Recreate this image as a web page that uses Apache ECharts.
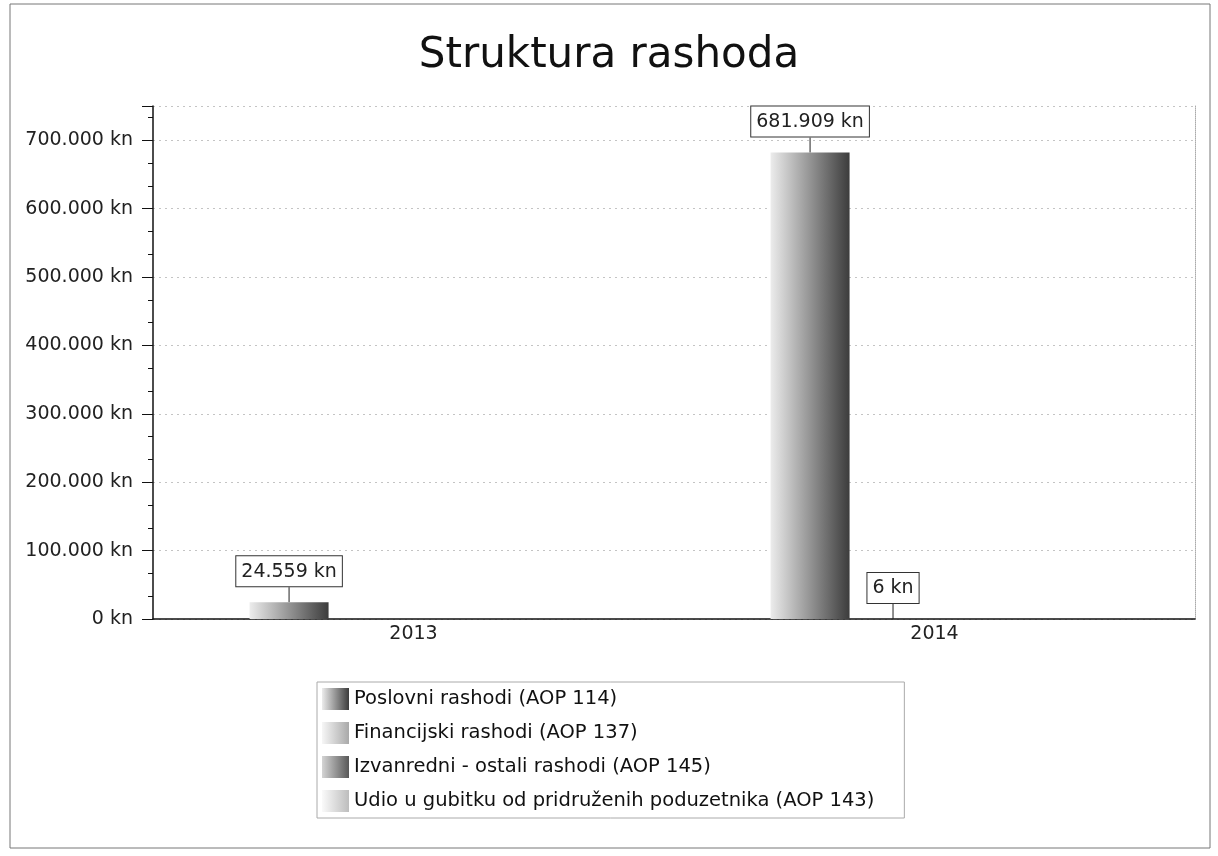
<!DOCTYPE html>
<html lang="hr">
<head>
    <meta charset="UTF-8">
    <title>Struktura rashoda</title>
    <script src="https://cdn.jsdelivr.net/npm/echarts@6/dist/echarts.min.js"></script>
    <style>
        html, body {margin: 0; padding: 0; background: #fff;}
        #chart {width: 1218px; height: 856px;}
    </style>
</head>
<body>
<div id="chart"></div>
<script>
    // podaci
    const years = ['2013', '2014'];
    const seriesNames = [
        'Poslovni rashodi (AOP 114)',
        'Financijski rashodi (AOP 137)',
        'Izvanredni - ostali rashodi (AOP 145)',
        'Udio u gubitku od pridruženih poduzetnika (AOP 143)'
    ];
    const poslovni = [24559, 681909];
    const financijski = [null, 6];
    const izvanredni = [null, null];
    const udio = [null, null];
    // sitne oznake na osi x
    const minorSlots = ['', '', '', '', '', '', '', '', '', ''];

    const font = 'DejaVu Sans';

    function kn(v) {
        return String(v).replace(/\B(?=(\d{3})+(?!\d))/g, '.') + ' kn';
    }

    function shade(light, dark) {
        return {
            type: 'linear', x: 0, y: 0, x2: 1, y2: 0,
            colorStops: [{offset: 0, color: light}, {offset: 1, color: dark}]
        };
    }

    const shades = [
        shade('#ececec', '#3c3c3c'),
        shade('#f6f6f6', '#a9a9a9'),
        shade('#d4d4d4', '#585858'),
        shade('#fafafa', '#bdbdbd')
    ];

    const values = [poslovni, financijski, izvanredni, udio];

    let myChart = echarts.init(document.getElementById('chart'));

    let option = {
        backgroundColor: '#fff',
        animation: false,
        title: {
            text: 'Struktura rashoda',
            left: 'center',
            top: 30,
            textStyle: {fontFamily: font, fontSize: 42, fontWeight: 'normal', color: '#111'}
        },
        graphic: [{
            type: 'rect',
            shape: {x: 10, y: 4, width: 1200, height: 844},
            style: {fill: 'none', stroke: '#777', lineWidth: 1},
            silent: true
        }],
        legend: {
            orient: 'vertical',
            left: 317,
            top: 682,
            padding: [6, 30, 6, 5],
            itemWidth: 27,
            itemHeight: 22,
            itemGap: 12,
            icon: 'rect',
            borderColor: '#aaa',
            borderWidth: 1,
            textStyle: {fontFamily: font, fontSize: 19.5, color: '#111'},
            data: seriesNames
        },
        grid: {left: 153, right: 23, top: 106, bottom: 237},
        xAxis: [{
            type: 'category',
            data: years,
            axisLine: {lineStyle: {color: '#111', width: 1.5}},
            axisTick: {alignWithLabel: true, length: 8, lineStyle: {color: '#111'}},
            axisLabel: {fontFamily: font, fontSize: 19, color: '#222', margin: 6}
        }, {
            type: 'category',
            data: minorSlots,
            position: 'bottom',
            axisLine: {show: false},
            axisTick: {alignWithLabel: true, length: 4, lineStyle: {color: '#111'}},
            axisLabel: {show: false}
        }],
        yAxis: [{
            type: 'value',
            min: 0,
            max: 750000,
            interval: 100000,
            axisLine: {show: true, lineStyle: {color: '#111', width: 1.5}},
            axisTick: {show: true, length: 11, lineStyle: {color: '#111'}},
            minorTick: {show: true, splitNumber: 3, length: 5, lineStyle: {color: '#111'}},
            axisLabel: {
                fontFamily: font, fontSize: 19, color: '#222', margin: 20,
                showMaxLabel: false,
                formatter: kn
            },
            splitLine: {lineStyle: {color: '#c4c4c4', type: [2, 4]}}
        }, {
            type: 'value',
            position: 'right',
            min: 0,
            max: 1,
            axisLine: {show: true, lineStyle: {color: '#aaa', type: 'dotted'}},
            axisTick: {show: false},
            axisLabel: {show: false},
            splitLine: {show: false}
        }],
        series: seriesNames.map(function (name, i) {
            return {
                name: name,
                type: 'bar',
                xAxisIndex: 0,
                yAxisIndex: 0,
                data: values[i],
                barWidth: 79,
                barGap: '5%',
                itemStyle: {color: shades[i]},
                label: {
                    show: true,
                    position: 'top',
                    distance: 4,
                    formatter: function (p) { return kn(p.value); },
                    fontFamily: font,
                    fontSize: 19,
                    color: '#222',
                    backgroundColor: '#fff',
                    borderColor: '#333',
                    borderWidth: 1,
                    padding: [6, 5, 5, 5]
                },
                labelLayout: {dy: -12},
                labelLine: {show: true, lineStyle: {color: '#222', width: 1}}
            };
        })
    };

    myChart.setOption(option);
</script>
</body>
</html>
